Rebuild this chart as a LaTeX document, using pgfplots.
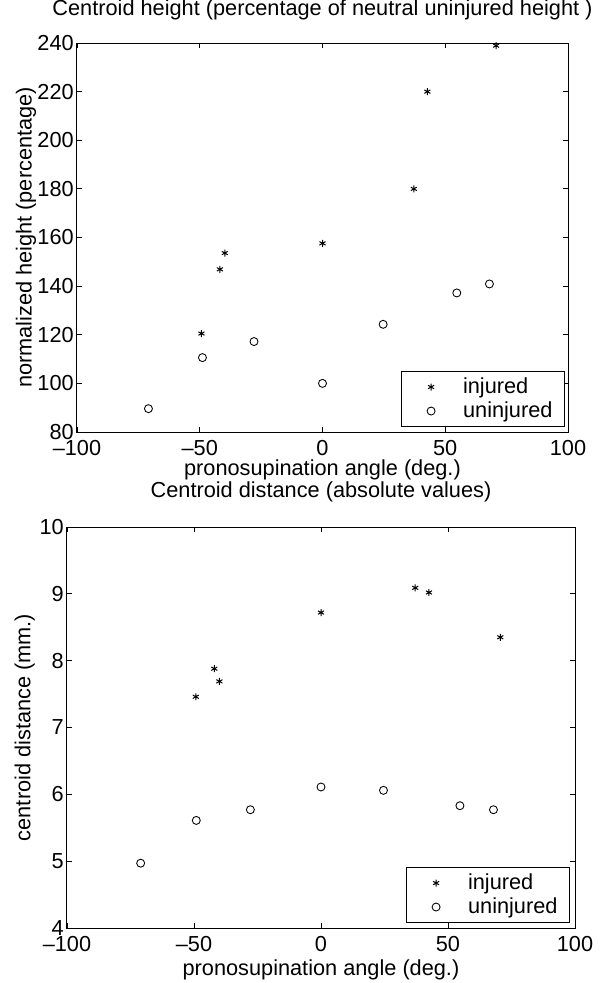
\documentclass[border=0pt]{standalone}
\usepackage{fontspec}
\setmainfont{Liberation Sans}
\usepackage{pgfplots}
\pgfplotsset{compat=1.18}
\newcommand{\fs}{\fontsize{16.3}{19.5}\selectfont}
\pgfplotsset{
  every axis/.append style={font=\fs},
  myax/.style={
    scale only axis,
    anchor=south west,
    xmin=-100, xmax=100,
    xtick={-100,-50,0,50,100},
    xticklabels={–100,–50,0,50,100},
    tick align=inside,
    major tick length=3.75pt,
    axis line style={line width=0.75pt},
    every tick/.style={black, line width=0.6pt},
    tick label style={font=\fs},
    xticklabel style={yshift=-2.4pt},
    yticklabel style={xshift=1.1pt},
    /pgf/number format/assume math mode=true,
    title style={anchor=center, font=\fs},
    xlabel style={anchor=center, font=\fs},
    ylabel style={anchor=center, font=\fs},
    legend cell align=left,
    legend image code/.code={
      \path[draw=none, fill=none, use as bounding box] (-13.5pt,-9pt) rectangle (24pt,9pt);
      \draw[##1] plot coordinates {(0pt,0pt)};
    },
    legend style={draw=black, line width=0.75pt, anchor=south east,
      at={(rel axis cs:1,0)},
      font=\fs, inner xsep=9pt, inner ysep=2.6pt,
      nodes={inner sep=0pt}, row sep=0pt, column sep=0pt},
  },
  inj/.style={only marks, mark=asterisk, mark size=2.6pt, black, line width=0.75pt},
  uninj/.style={only marks, mark=o, mark size=3pt, black, line width=0.65pt},
}
\begin{document}
\begin{tikzpicture}
\path[use as bounding box] (0pt,0pt) rectangle (454.5pt,-737.25pt);
\begin{axis}[myax,
  at={(57.75pt,-324pt)},
  width=368.25pt, height=291.75pt,
  ymin=80, ymax=240, ytick={80,100,...,240},
  title={Centroid height (percentage of neutral uninjured height )},
  title style={at={(axis description cs:0.5,1.0643)}},
  xlabel={pronosupination angle (deg.)},
  xlabel style={at={(axis description cs:0.5,-0.0977)}},
  ylabel={normalized height (percentage)},
  ylabel style={at={(axis description cs:-0.104,0.5)}},
  legend style={xshift=-2.25pt, yshift=3.75pt},
]
\addplot[inj] coordinates {
(-49.3,120.5) (-41.8,146.9) (-39.8,153.6) (0,157.6) (37.2,180.0) (42.7,220.0) (70.7,238.9)
};
\addlegendentry{injured}
\addplot[uninj] coordinates {
(-70.9,89.6) (-48.9,110.6) (-27.9,117.2) (0,100.0) (24.7,124.3) (54.7,137.2) (68.0,140.9)
};
\addlegendentry{uninjured}
\end{axis}
\begin{axis}[myax,
  at={(50.25pt,-696pt)},
  width=381pt, height=300.75pt,
  ymin=4, ymax=10, ytick={4,5,...,10},
  title={Centroid distance (absolute values)},
  title style={at={(axis description cs:0.5,1.0673)}},
  xlabel={pronosupination angle (deg.)},
  xlabel style={at={(axis description cs:0.5,-0.1047)}},
  ylabel={centroid distance (mm.)},
  ylabel style={at={(axis description cs:-0.083,0.5)}},
  legend style={xshift=-3.75pt, yshift=3.75pt},
]
\addplot[inj] coordinates {
(-49.3,7.46) (-42.0,7.88) (-40.0,7.69) (0,8.72) (37.1,9.09) (42.5,9.02) (70.6,8.35)
};
\addlegendentry{injured}
\addplot[uninj] coordinates {
(-71.0,4.97) (-49.1,5.61) (-27.8,5.77) (0,6.11) (24.6,6.06) (54.7,5.83) (67.9,5.77)
};
\addlegendentry{uninjured}
\end{axis}
\end{tikzpicture}
\end{document}
